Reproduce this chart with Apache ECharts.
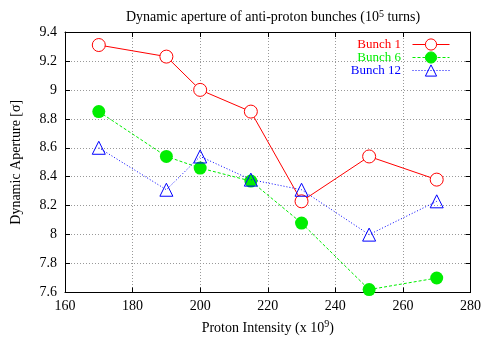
<!DOCTYPE html>
<html>
<head>
<meta charset="utf-8">
<script src="https://cdn.jsdelivr.net/npm/echarts@6/dist/echarts.min.js"></script>
<style>
  html, body { margin: 0; padding: 0; background: #fff; }
  #chart { width: 484px; height: 340px; }
</style>
</head>
<body>
<div id="chart"></div>
<script>
var intensity = [170, 190, 200, 215, 230, 250, 270];
var bunch1 = [9.31, 9.23, 9.00, 8.85, 8.23, 8.54, 8.38];
var bunch6 = [8.85, 8.54, 8.46, 8.37, 8.08, 7.62, 7.70];
var bunch12 = [8.60, 8.31, 8.54, 8.38, 8.31, 8.00, 8.23];

function pairs(ys) {
    return intensity.map(function (x, i) { return [x, ys[i]]; });
}

var font = 'Liberation Serif';
var green = '#00ee00';
var gridLine = { show: true, lineStyle: { color: '#999', type: [1, 2], width: 1 } };
var frame = { show: true, lineStyle: { color: '#000', width: 1 } };
var ticks = { show: true, inside: true, length: 5, lineStyle: { color: '#000' } };
var supStyle = { fontFamily: font, fontSize: 10, verticalAlign: 'bottom', padding: [0, 0, 7, 0] };

var chart = echarts.init(document.getElementById('chart'), null, { renderer: 'canvas' });
chart.setOption({
    animation: false,
    backgroundColor: '#fff',
    title: {
        text: 'Dynamic aperture of anti-proton bunches (10{sup|5} turns)',
        left: 268,
        textAlign: 'center',
        top: 4,
        textStyle: {
            fontFamily: font, fontSize: 14, fontWeight: 'normal', color: '#000',
            rich: { sup: supStyle }
        }
    },
    legend: {
        orient: 'vertical',
        right: 29,
        top: 33,
        align: 'right',
        itemWidth: 37,
        itemHeight: 14,
        itemGap: 0,
        lineStyle: { width: 1 },
        itemStyle: { borderWidth: 1 },
        formatter: function (name) { return name + '  '; },
        textStyle: { fontFamily: font, fontSize: 13 },
        data: [
            { name: 'Bunch 1', textStyle: { color: '#ff0000' } },
            { name: 'Bunch 6', textStyle: { color: green } },
            { name: 'Bunch 12', textStyle: { color: '#0000ff' } }
        ]
    },
    grid: { left: 65, right: 12, top: 32, bottom: 46 },
    xAxis: [{
        type: 'value', min: 160, max: 280, interval: 20,
        name: 'Proton Intensity (x 10{sup|9})',
        nameLocation: 'middle', nameGap: 27,
        nameTextStyle: {
            fontFamily: font, fontSize: 14, color: '#000',
            rich: { sup: supStyle }
        },
        axisLine: frame, axisTick: ticks, splitLine: gridLine,
        axisLabel: { fontFamily: font, fontSize: 14, color: '#000', margin: 7 }
    }, {
        type: 'value', min: 160, max: 280, interval: 20, position: 'top',
        axisLine: frame, axisTick: ticks, splitLine: { show: false }, axisLabel: { show: false }
    }],
    yAxis: [{
        type: 'value', min: 7.6, max: 9.4, interval: 0.2,
        name: 'Dynamic Aperture [σ]',
        nameLocation: 'middle', nameGap: 42, nameRotate: 90,
        nameTextStyle: { fontFamily: font, fontSize: 14, color: '#000' },
        axisLine: frame, axisTick: ticks, splitLine: gridLine,
        axisLabel: {
            fontFamily: font, fontSize: 14, color: '#000', margin: 8,
            formatter: function (v) { return String(parseFloat(v.toFixed(1))); }
        }
    }, {
        type: 'value', min: 7.6, max: 9.4, interval: 0.2, position: 'right',
        axisLine: frame, axisTick: ticks, splitLine: { show: false }, axisLabel: { show: false }
    }],
    series: [{
        name: 'Bunch 1', type: 'line', data: pairs(bunch1),
        symbol: 'circle', symbolSize: 13,
        itemStyle: { color: '#fff', borderColor: '#ff0000', borderWidth: 1 },
        lineStyle: { color: '#ff0000', width: 1 },
        z: 3
    }, {
        name: 'Bunch 6', type: 'line', data: pairs(bunch6),
        symbol: 'circle', symbolSize: 13,
        itemStyle: { color: green, borderColor: green, borderWidth: 0 },
        lineStyle: { color: green, width: 1, type: [3, 2] },
        z: 2
    }, {
        name: 'Bunch 12', type: 'line', data: pairs(bunch12),
        symbol: 'triangle', symbolSize: 13,
        itemStyle: { color: 'rgba(255,255,255,0)', borderColor: '#0000ff', borderWidth: 1 },
        lineStyle: { color: '#0000ff', width: 1, type: [1, 2] },
        z: 4
    }]
});
</script>
</body>
</html>
